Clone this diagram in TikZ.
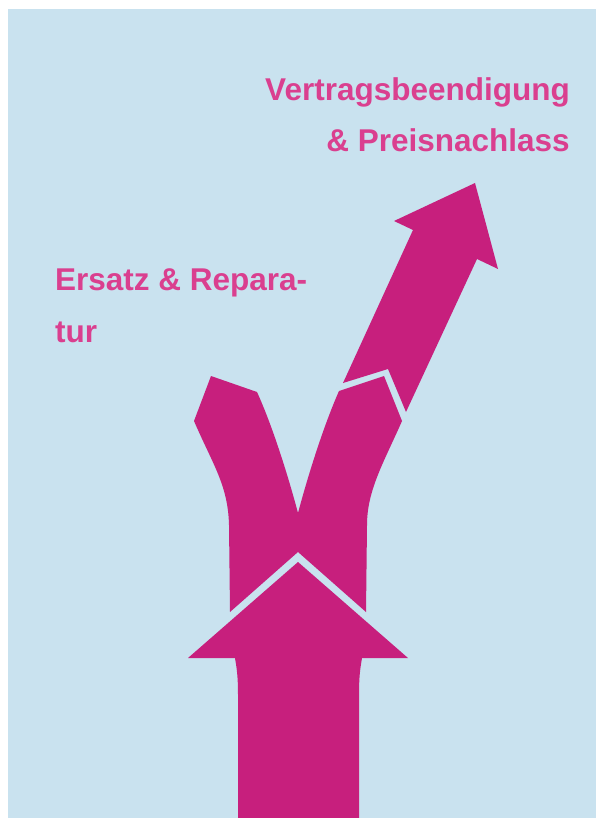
\documentclass[tikz,border=0pt]{standalone}
\usepackage{fontspec}
\setmainfont{Liberation Sans}
\definecolor{bgblue}{HTML}{C9E2EF}
\definecolor{arrowpink}{HTML}{C71F7D}
\definecolor{textpink}{HTML}{DA3F8F}
\begin{document}
\begin{tikzpicture}[x=1pt,y=-1pt,
  shapefill/.style={fill=arrowpink},
  label/.style={text=textpink,font=\fontsize{31.5}{51.5}\selectfont\bfseries,inner sep=0pt}]
\useasboundingbox (0,0) rectangle (596,818);
\fill[bgblue] (8,9) rectangle (596,818);
% bottom arrow
\fill[shapefill] (238,818) -- (238,695) .. controls (238,672) and (236,665) .. (235,658)
  -- (188,658) -- (298,562) -- (408,658) -- (362,658)
  .. controls (361,665) and (359,672) .. (359,695) -- (359,818) -- cycle;
% Y fork
\fill[shapefill] (298,513) .. controls (287,472) and (272,425) .. (257,392)
  -- (211,376) -- (194,421)
  .. controls (213,465) and (228,485) .. (229,525)
  -- (230,612) -- (298,552) -- (366,612) -- (367,525)
  .. controls (367,490) and (384,462) .. (402,421)
  -- (384,376) -- (339,391)
  .. controls (324,425) and (309,472) .. (298,513) -- cycle;
% diagonal arrow
\fill[shapefill] (343,383) -- (413,230) -- (394,221) -- (475,183) -- (498,269)
  -- (477,259) -- (406,412) -- (388,369) -- cycle;
% labels
\node[label,anchor=base east,align=right] (vb) at (570,152) {Vertragsbeendigung\\\& Preisnachlass};
\node[label,anchor=base west,align=left] (er) at (55,342) {Ersatz \& Repara-\\tur};
\end{tikzpicture}
\end{document}
